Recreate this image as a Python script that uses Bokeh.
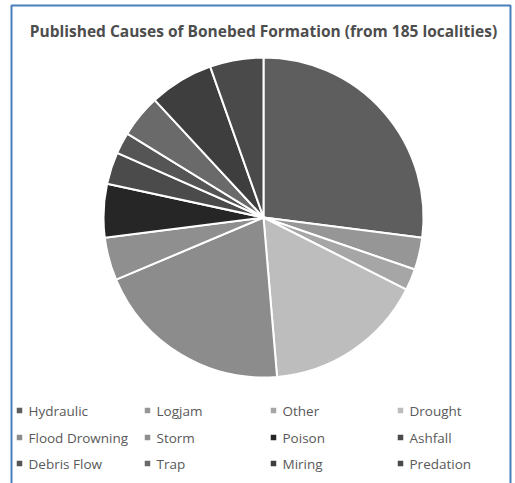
import math
from bokeh.plotting import figure
from bokeh.models import Range1d, ColumnDataSource
from bokeh.core.properties import value
from bokeh.embed import file_html
from bokeh.resources import INLINE

# ---- data ----
title_text = "Published Causes of Bonebed Formation (from 185 localities)"
categories = ["Hydraulic", "Logjam", "Other", "Drought",
              "Flood Drowning", "Storm", "Poison", "Ashfall",
              "Debris Flow", "Trap", "Miring", "Predation"]
counts = [50, 6, 4, 30, 37, 8, 10, 6, 4, 8, 12, 10]
colors = ["#5e5e5e", "#969696", "#a6a6a6", "#bdbdbd",
          "#8c8c8c", "#8f8f8f", "#262626", "#4b4b4b",
          "#555555", "#6a6a6a", "#3e3e3e", "#4a4a4a"]

# ---- layout (page pixels) ----
W, H = 515, 483
OFF = 0
def X(px):
    return px - OFF
def Y(py):
    return (H + OFF) - py

p = figure(width=W, height=H, output_backend="svg", toolbar_location=None,
           x_range=Range1d(0, W), y_range=Range1d(0, H),
           min_border=0, min_border_left=0, min_border_right=0,
           min_border_top=0, min_border_bottom=0)
p.axis.visible = False
p.grid.visible = False
p.outline_line_color = None
p.background_fill_color = "white"
p.border_fill_color = "white"

# pie
total = sum(counts)
starts, ends = [], []
acc = 0.0
for c in counts:
    a0 = math.pi / 2 - 2 * math.pi * acc / total
    acc += c
    a1 = math.pi / 2 - 2 * math.pi * acc / total
    starts.append(a1)
    ends.append(a0)
src = ColumnDataSource(dict(start=starts, end=ends, color=colors, cat=categories))
cx, cy, r = X(263), Y(217), 160
p.wedge(x=cx, y=cy, radius=r, start_angle="start", end_angle="end",
        fill_color="color", line_color="white", line_width=2, source=src)

# title
p.text(x=[X(263)], y=[Y(30)], text=[title_text], text_align="center",
       text_baseline="middle", text_font=value("Open Sans"),
       text_font_style="bold", text_font_size="15.5px", text_color="#4d4d4d")

# legend
col_x = [19, 147, 273, 400]
row_y = [410, 437, 463]
lx, ly, tx = [], [], []
for i, _ in enumerate(categories):
    cxp = col_x[i % 4]
    ryp = row_y[i // 4]
    lx.append(X(cxp))
    ly.append(Y(ryp))
    tx.append(X(cxp + 9))
leg = ColumnDataSource(dict(x=lx, y=ly, tx=tx, cat=categories, color=colors))
p.scatter(x="x", y="y", marker="square", size=5.5, fill_color="color",
          line_color=None, source=leg)
p.text(x="tx", y="y", text="cat", text_baseline="middle", text_align="left",
       text_font=value("Open Sans"), text_font_size="13.5px",
       text_color="#595959", source=leg)

# blue border
p.quad(left=[X(11)], right=[X(510)], top=[Y(5)], bottom=[Y(495)],
       fill_color=None, line_color="#4a7ebb", line_width=2)

open("out.html", "w").write(file_html(p, INLINE))
